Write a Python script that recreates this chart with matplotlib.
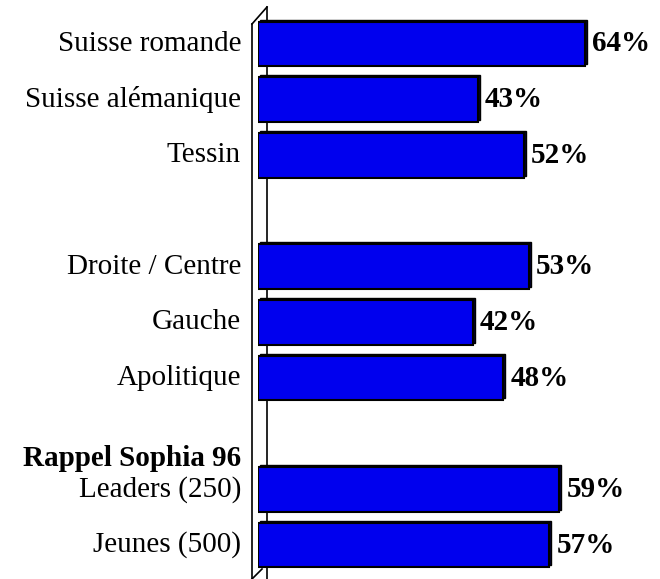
import numpy as np
import matplotlib.pyplot as plt
import matplotlib.transforms as mtransforms
from matplotlib.lines import Line2D

plt.rcParams['font.family'] = ['Liberation Serif', 'DejaVu Serif']

labels = ["Suisse romande", "Suisse alémanique", "Tessin",
          "Droite / Centre", "Gauche", "Apolitique",
          "Leaders (250)", "Jeunes (500)"]
values = [64, 43, 52, 53, 42, 48, 59, 57]
slots = [0, 1, 2, 4, 5, 6, 8, 9]
group_label = "Rappel Sophia 96"

W, H = 660, 579
fig = plt.figure(figsize=(W / 100, H / 100), dpi=100)

# axes: zero of bars at x=258px, one slot = 55.67px, slot 0 at y=44px
x0 = 258
ppx = 5.11
slot_h = 55.67
ax = fig.add_axes([x0 / W, 0, 1 - x0 / W, 1])
ax.set_xlim(0, (W - x0) / ppx)
ax.set_ylim(9 + (H - 545) / slot_h, -44 / slot_h)
ax.axis('off')

# wall of the pseudo-3D chart
wall = dict(color='black', lw=1.2, transform=fig.transFigure, zorder=0)
def px(x, y):
    return x / W, 1 - y / H
for (xa, ya), (xb, yb) in [((252, 24), (252, 579)), ((267, 7), (267, 579)),
                           ((252, 24), (267, 7)), ((252, 579), (262, 569))]:
    (fx0, fy0), (fx1, fy1) = px(xa, ya), px(xb, yb)
    fig.add_artist(Line2D([fx0, fx1], [fy0, fy1], **wall))

# depth face of bars, shifted up/right
shift = ax.transData + mtransforms.ScaledTranslation(2 / 100, 2 / 100, fig.dpi_scale_trans)
ax.barh(slots, values, height=0.8, color='#000030', edgecolor='black',
        lw=1, transform=shift, zorder=2)
ax.barh(slots, values, height=0.8, color='#0000ee', edgecolor='black',
        lw=1.5, zorder=3)

for s, v, lab in zip(slots, values, labels):
    ax.text(v + 1.4, s, f"{v}%", ha='left', va='center', fontsize=21,
            fontweight='bold', zorder=4)
    fig.text(241 / W, 1 - (44 + s * slot_h) / H, lab, ha='right', va='center',
             fontsize=21)

fig.text(241 / W, 1 - 458 / H, group_label, ha='right', va='center',
         fontsize=21, fontweight='bold')

fig.savefig('out.png', dpi=100, facecolor='white')
